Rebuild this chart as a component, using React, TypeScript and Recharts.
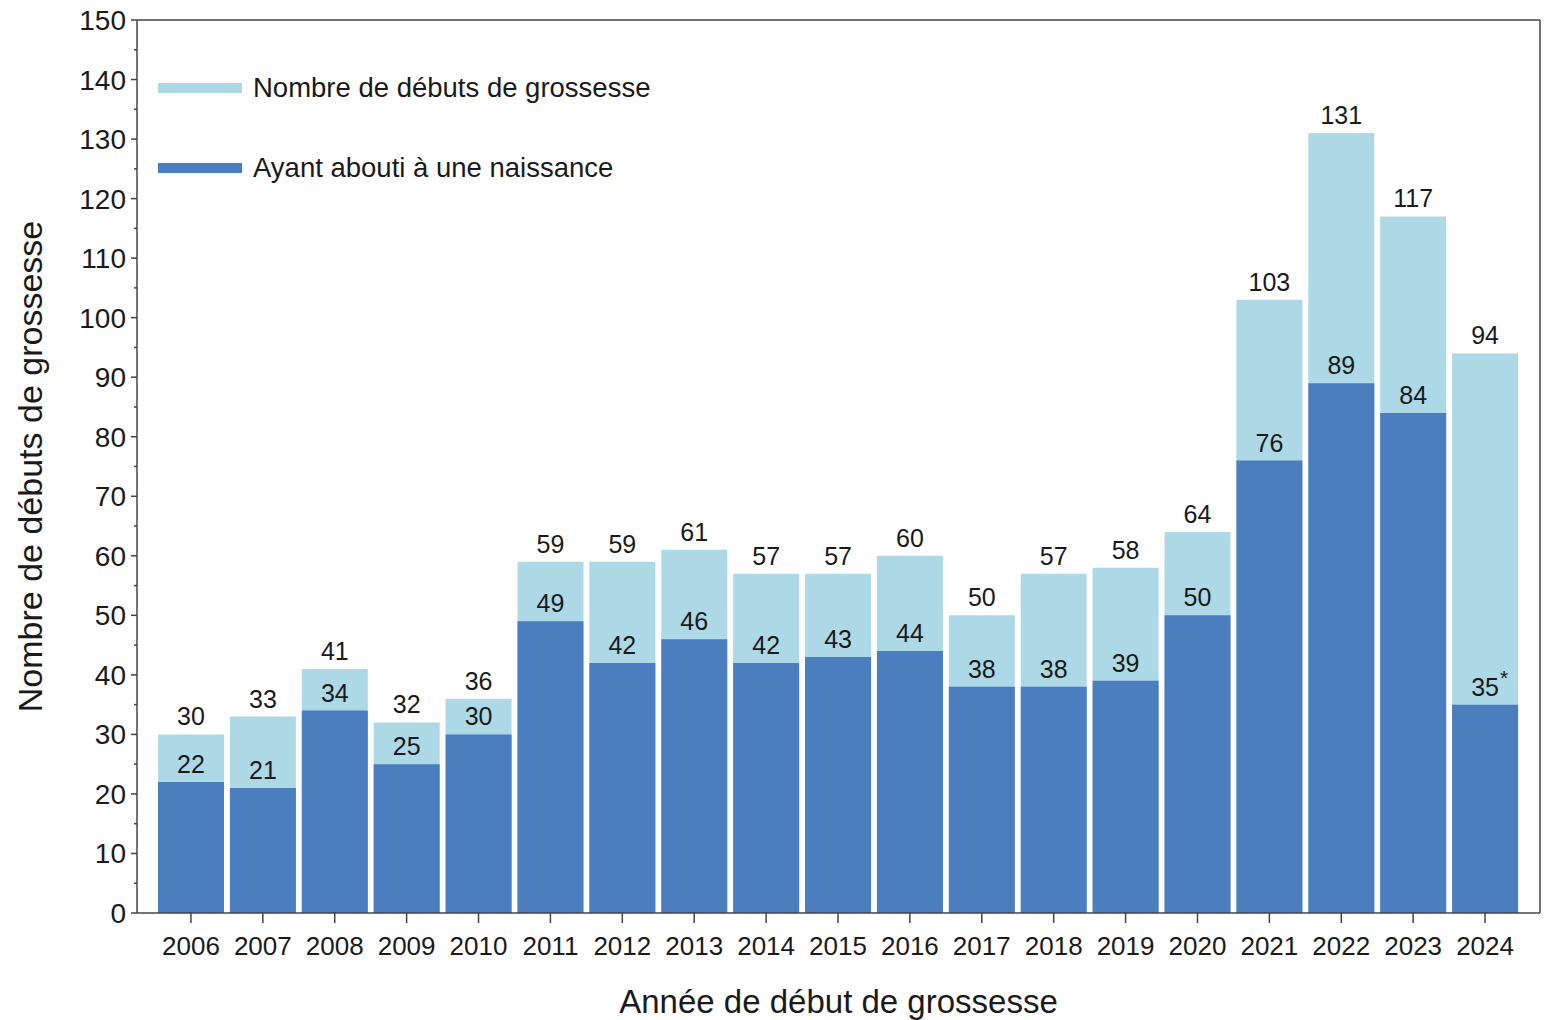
import React from 'react';
import { BarChart, Bar, XAxis, YAxis, LabelList } from 'recharts';

const years = ['2006', '2007', '2008', '2009', '2010', '2011', '2012', '2013', '2014', '2015', '2016', '2017', '2018', '2019', '2020', '2021', '2022', '2023', '2024'];
const totalStarts = [30, 33, 41, 32, 36, 59, 59, 61, 57, 57, 60, 50, 57, 58, 64, 103, 131, 117, 94];
const withBirth = [22, 21, 34, 25, 30, 49, 42, 46, 42, 43, 44, 38, 38, 39, 50, 76, 89, 84, 35];
// years whose birth count is still provisional (marked with *)
const provisionalYears = ['2024'];
const yTicks = [0, 5, 10, 15, 20, 25, 30, 35, 40, 45, 50, 55, 60, 65, 70, 75, 80, 85, 90, 95, 100, 105, 110, 115, 120, 125, 130, 135, 140, 145, 150];

const LIGHT = '#ADD8E6';
const DARK = '#4A7EBF';
const FONT = "Arial, 'Liberation Sans', sans-serif";
const INK = '#1a1a1a';
const AXIS = '#444';

const data = years.map((year, i) => ({ year, total: totalStarts[i], births: withBirth[i] }));

const legendItems = [
  { label: 'Nombre de débuts de grossesse', color: LIGHT },
  { label: 'Ayant abouti à une naissance', color: DARK },
];

// y axis tick: long tick on tens, short tick on fives
const YTick = ({ x, y, payload }: any) => {
  const major = payload.value % 10 === 0;
  return (
    <g>
      <line x1={x - (major ? 6 : 3)} x2={x} y1={y} y2={y} stroke={AXIS} strokeWidth={1.5} />
      {major && (
        <text x={x - 11} y={y} dy={10} textAnchor="end" fontSize={28} fill={INK} fontFamily={FONT}>
          {payload.value}
        </text>
      )}
    </g>
  );
};

const BirthLabel = ({ x, y, width, value, index }: any) => {
  const flagged = provisionalYears.includes(years[index]);
  const cx = x + width / 2;
  return (
    <g>
      <text x={cx} y={y - 9} textAnchor="middle" fontSize={25} fill={INK} fontFamily={FONT}>
        {value}
      </text>
      {flagged && (
        <text x={cx + 15} y={y - 20} textAnchor="start" fontSize={21} fill={INK} fontFamily={FONT}>*</text>
      )}
    </g>
  );
};

const LegendBox = () => (
  <div style={{ position: 'absolute', left: 158, top: 68, fontFamily: FONT, fontSize: 27.5, color: INK }}>
    {legendItems.map((item) => (
      <div key={item.label} style={{ display: 'flex', alignItems: 'center', height: 40, marginBottom: 40 }}>
        <div style={{ width: 84, height: 10, background: item.color }} />
        <span style={{ marginLeft: 11 }}>{item.label}</span>
      </div>
    ))}
  </div>
);

export default function App() {
  return (
    <div style={{ position: 'absolute', left: 0, top: 0, width: 1544, height: 1020 }}>
      <BarChart width={1544} height={1020} data={data} margin={{ top: 19, right: 3, left: 0, bottom: 0 }}>
        <XAxis
          xAxisId="bottom"
          dataKey="year"
          height={107}
          padding={{ left: 18, right: 19 }}
          stroke={AXIS}
          strokeWidth={1.5}
          tickSize={10}
          tickMargin={14}
          interval={0}
          tick={{ fontSize: 26, fill: INK, fontFamily: FONT }}
          label={{ value: 'Année de début de grossesse', position: 'insideBottom', offset: 7, fontSize: 33, fill: INK, fontFamily: FONT }}
        />
        <XAxis
          xAxisId="top"
          dataKey="year"
          orientation="top"
          height={1}
          padding={{ left: 18, right: 19 }}
          stroke={AXIS}
          strokeWidth={1.5}
          tick={false}
          tickLine={false}
        />
        <YAxis
          yAxisId="left"
          width={137}
          domain={[0, 150]}
          ticks={yTicks}
          interval={0}
          stroke={AXIS}
          strokeWidth={1.5}
          tickSize={0}
          tickMargin={0}
          tickLine={false}
          tick={<YTick />}
          label={{ value: 'Nombre de débuts de grossesse', angle: -90, position: 'insideLeft', offset: 30, fontSize: 34, fill: INK, fontFamily: FONT, style: { textAnchor: 'middle' } }}
        />
        <YAxis
          yAxisId="right"
          orientation="right"
          width={1}
          domain={[0, 150]}
          stroke={AXIS}
          strokeWidth={1.5}
          tick={false}
          tickLine={false}
        />
        <Bar xAxisId="bottom" yAxisId="left" dataKey="total" fill={LIGHT} barSize={66} isAnimationActive={false}>
          <LabelList dataKey="total" position="top" offset={9} fontSize={25} fill={INK} fontFamily={FONT} />
        </Bar>
        <Bar xAxisId="top" yAxisId="left" dataKey="births" fill={DARK} barSize={66} isAnimationActive={false}>
          <LabelList dataKey="births" content={<BirthLabel />} />
        </Bar>
      </BarChart>
      <LegendBox />
    </div>
  );
}
